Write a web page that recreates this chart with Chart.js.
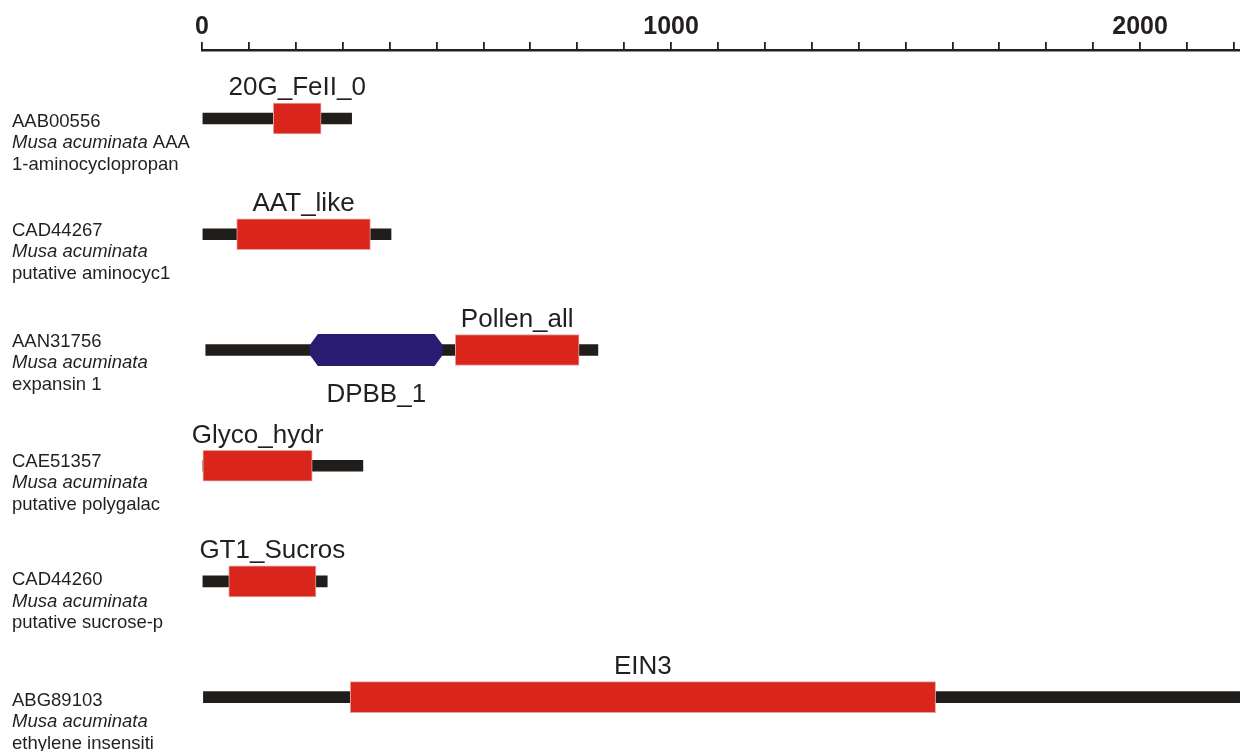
<!DOCTYPE html>
<html><head><meta charset="utf-8">
<script src="https://cdn.jsdelivr.net/npm/chart.js@4.4.1/dist/chart.umd.min.js"></script>
<style>html,body{margin:0;padding:0;background:#fff;overflow:hidden}#wrap{width:1240px;height:751px}</style>
</head><body><div id="wrap"><canvas id="c" width="1240" height="751"></canvas></div>
<script>
// ---- data ----
const proteinIds = ['AAB00556', 'CAD44267', 'AAN31756', 'CAE51357', 'CAD44260', 'ABG89103'];
const speciesName = ['Musa acuminata', 'Musa acuminata', 'Musa acuminata', 'Musa acuminata', 'Musa acuminata', 'Musa acuminata'];
const speciesSuffix = [' AAA', '', '', '', '', ''];
const descriptions = ['1-aminocyclopropan', 'putative aminocyc1', 'expansin 1', 'putative polygalac', 'putative sucrose-p', 'ethylene insensiti'];
const proteinStart = [0, 0, 8, 0, 0, 3];
const proteinEnd = [319, 403, 844, 343, 267, 2213];

const domainRow = [0, 1, 2, 2, 3, 4, 5];
const domainName = ['20G_FeII_0', 'AAT_like', 'DPBB_1', 'Pollen_all', 'Glyco_hydr', 'GT1_Sucros', 'EIN3'];
const domainStart = [152, 74, 230, 540, 0, 57, 316];
const domainEnd = [254, 359, 513, 804, 235, 243, 1564];
const domainShape = ['box', 'box', 'hexagon', 'box', 'box', 'box', 'box'];
const domainLabelSide = ['above', 'above', 'below', 'above', 'above', 'above', 'above'];

const axisMax = 2213;
const tickStep = 100;
const labelStep = 1000;

// ---- layout / style ----
const leftLabelDy = [1.5, -5.2, -10, -5.7, -3.2, 2];
const INK = '#231f20';
const RED = '#da251d';
const BLUE = '#2a1b73';
const FONT = '"Liberation Sans", Arial, sans-serif';

const backboneData = proteinIds.map((id, i) => ({x: [proteinStart[i], proteinEnd[i]], y: i}));
const boxData = [], hexData = [];
domainName.forEach((n, j) => {
  const d = {x: [domainStart[j], domainEnd[j]], y: domainRow[j], name: n, side: domainLabelSide[j]};
  (domainShape[j] === 'hexagon' ? hexData : boxData).push(d);
});

const hexPlugin = {
  id: 'hexDomains',
  afterDatasetsDraw(chart) {
    const ctx = chart.ctx;
    const meta = chart.getDatasetMeta(1);
    ctx.save();
    ctx.fillStyle = BLUE;
    meta.data.forEach(el => {
      const p = el.getProps(['x', 'y', 'base', 'height'], true);
      const l = Math.min(p.x, p.base), r = Math.max(p.x, p.base);
      const t = p.y - p.height / 2, b = p.y + p.height / 2, cx = 8, cy = 11;
      ctx.beginPath();
      ctx.moveTo(l + cx, t); ctx.lineTo(r - cx, t); ctx.lineTo(r, t + cy); ctx.lineTo(r, b - cy);
      ctx.lineTo(r - cx, b); ctx.lineTo(l + cx, b); ctx.lineTo(l, b - cy); ctx.lineTo(l, t + cy);
      ctx.closePath(); ctx.fill();
    });
    ctx.restore();
  }
};

const labelPlugin = {
  id: 'labels',
  afterDatasetsDraw(chart) {
    const ctx = chart.ctx;
    ctx.save();
    ctx.fillStyle = INK;
    ctx.textBaseline = 'alphabetic';
    // domain labels
    [0, 1].forEach(di => {
      const meta = chart.getDatasetMeta(di);
      const raw = chart.data.datasets[di].data;
      meta.data.forEach((el, k) => {
        const p = el.getProps(['x', 'y', 'base', 'height'], true);
        const cxp = (p.x + p.base) / 2;
        ctx.font = '26px ' + FONT;
        ctx.textAlign = 'center';
        const yb = raw[k].side === 'above' ? p.y - p.height / 2 - 7.7 : p.y + p.height / 2 + 36.3;
        ctx.fillText(raw[k].name, cxp, yb);
      });
    });
    // protein labels
    const ys = chart.scales.y;
    ctx.textAlign = 'left';
    proteinIds.forEach((id, i) => {
      const y0 = ys.getPixelForValue(i) + leftLabelDy[i] + 6.6;
      const x0 = 12;
      ctx.font = '18.5px ' + FONT;
      ctx.fillText(id, x0, y0);
      ctx.font = 'italic 18.5px ' + FONT;
      ctx.fillText(speciesName[i], x0, y0 + 21.7);
      const w = ctx.measureText(speciesName[i]).width;
      ctx.font = '18.5px ' + FONT;
      if (speciesSuffix[i]) ctx.fillText(speciesSuffix[i], x0 + w, y0 + 21.7);
      ctx.fillText(descriptions[i], x0, y0 + 43.4);
    });
    ctx.restore();
  }
};

new Chart(document.getElementById('c'), {
  type: 'bar',
  data: {
    datasets: [
      {label: 'domains', data: boxData, backgroundColor: RED, borderColor: '#e9a29c', borderWidth: 1,
       borderSkipped: false, barThickness: 31, grouped: false, order: 1},
      {label: 'hexDomains', data: hexData, backgroundColor: 'rgba(0,0,0,0)', borderWidth: 0,
       barThickness: 32, grouped: false, order: 1},
      {label: 'backbone', data: backboneData, backgroundColor: '#211d1a', borderWidth: 0,
       barThickness: 11, grouped: false, order: 2}
    ]
  },
  options: {
    responsive: false,
    animation: false,
    indexAxis: 'y',
    layout: {padding: {left: 202, right: 0, top: 12, bottom: 0}},
    plugins: {legend: {display: false}, tooltip: {enabled: false}},
    scales: {
      x: {
        type: 'linear', position: 'top', min: 0, max: axisMax,
        ticks: {
          stepSize: tickStep, autoSkip: false, maxRotation: 0, includeBounds: false, padding: 0,
          color: INK, font: {family: FONT, size: 25, weight: 'bold'},
          callback: v => (Math.round(v) % labelStep === 0 ? String(Math.round(v)) : '')
        },
        grid: {drawOnChartArea: false, drawTicks: true, tickLength: 8, color: INK, lineWidth: 1.8},
        border: {display: true, color: INK, width: 2.5}
      },
      y: {type: 'linear', reverse: true, min: -0.592, max: 5.465, display: false, offset: false,
          grid: {offset: false}}
    }
  },
  plugins: [hexPlugin, labelPlugin]
});
</script>
</body></html>
